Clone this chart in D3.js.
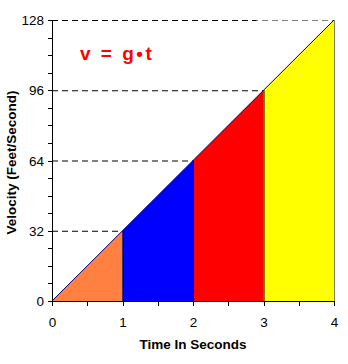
<!DOCTYPE html>
<html>
<head>
<meta charset="utf-8">
<script src="https://cdn.jsdelivr.net/npm/d3@7"></script>
<style>
  html, body { margin: 0; padding: 0; background: #fff; }
  text { font-family: Arial, "Liberation Sans", sans-serif; }
</style>
</head>
<body>
<svg id="chart" width="348" height="364"></svg>
<script>
// Velocity under constant acceleration, split into one-second intervals
const seconds = [0, 1, 2, 3, 4];
const velocities = [0, 32, 64, 96, 128];
const intervalColors = ["#FF8040", "#0000FF", "#FF0000", "#FFFF00"];
const xTicks = [0, 1, 2, 3, 4];
const yTicks = [0, 32, 64, 96, 128];
const xMinorTicks = [0.5, 1.5, 2.5, 3.5];
const yMinorTicks = d3.range(0, 129, 8);

const svg = d3.select("#chart");
const x = d3.scaleLinear().domain([0, 4]).range([52, 334]);
const y = d3.scaleLinear().domain([0, 128]).range([301, 20]);

// Filled strips under the line, one per second
for (let i = 0; i < 4; i++) {
  const pts = [
    [seconds[i], 0], [seconds[i], velocities[i]],
    [seconds[i + 1], velocities[i + 1]], [seconds[i + 1], 0]
  ];
  svg.append("path")
    .attr("d", d3.line().x(d => x(d[0])).y(d => y(d[1]))(pts) + "Z")
    .attr("fill", intervalColors[i]);
}

// Dashed guides from the axis to each point on the line
yTicks.slice(1).forEach((v, i) => {
  const t = seconds[i + 1];
  if (v === 128) {
    svg.append("line").attr("x1", x(0)).attr("x2", x(4))
      .attr("y1", y(v) + 0.5).attr("y2", y(v) + 0.5)
      .attr("stroke", "#808080").attr("stroke-dasharray", "6,4");
    svg.append("line").attr("x1", x(0)).attr("x2", x(2.9))
      .attr("y1", y(v) + 0.5).attr("y2", y(v) + 0.5)
      .attr("stroke", "#000").attr("stroke-dasharray", "6,4");
  } else {
    svg.append("line").attr("x1", x(0)).attr("x2", x(t))
      .attr("y1", y(v) + 0.5).attr("y2", y(v) + 0.5)
      .attr("stroke", "#000").attr("stroke-dasharray", "6,4");
  }
});

// Interval separators
seconds.slice(1, 4).forEach((t, i) => {
  svg.append("line").attr("x1", x(t) + 0.5).attr("x2", x(t) + 0.5)
    .attr("y1", y(velocities[i + 1])).attr("y2", y(0))
    .attr("stroke", "#000").attr("stroke-width", 1);
});
// Right edge
svg.append("line").attr("x1", x(4) + 0.5).attr("x2", x(4) + 0.5)
  .attr("y1", y(128)).attr("y2", y(0)).attr("stroke", "#808080");

// Velocity line v = g·t
svg.append("path")
  .attr("d", d3.line().x((d, i) => x(seconds[i])).y(d => y(d))(velocities))
  .attr("fill", "none").attr("stroke", "#000080").attr("stroke-width", 1);

// Axes
const axisColor = "#000";
svg.append("line").attr("x1", x(0) + 0.5).attr("x2", x(0) + 0.5)
  .attr("y1", y(128)).attr("y2", y(0) + 4).attr("stroke", axisColor);
svg.append("line").attr("x1", x(0) - 4).attr("x2", x(4) + 1)
  .attr("y1", y(0) + 0.5).attr("y2", y(0) + 0.5).attr("stroke", axisColor);

yMinorTicks.forEach(v => {
  svg.append("line").attr("x1", x(0) - 4).attr("x2", x(0))
    .attr("y1", Math.round(y(v)) + 0.5).attr("y2", Math.round(y(v)) + 0.5)
    .attr("stroke", axisColor);
});
xTicks.concat(xMinorTicks).forEach(t => {
  svg.append("line").attr("x1", Math.round(x(t)) + 0.5).attr("x2", Math.round(x(t)) + 0.5)
    .attr("y1", y(0)).attr("y2", y(0) + 5).attr("stroke", axisColor);
});

svg.selectAll(".ylab").data(yTicks).enter().append("text")
  .attr("x", x(0) - 8).attr("y", d => y(d) + 5)
  .attr("text-anchor", "end").attr("font-size", 13.5).attr("fill", "#000")
  .text(d => d);
svg.selectAll(".xlab").data(xTicks).enter().append("text")
  .attr("x", d => x(d) + 0.5).attr("y", 327)
  .attr("text-anchor", "middle").attr("font-size", 13.5).attr("fill", "#000")
  .text(d => d);

svg.append("text")
  .attr("transform", `translate(16,${(y(0) + y(128)) / 2 + 2}) rotate(-90)`)
  .attr("text-anchor", "middle").attr("font-size", 13.5).attr("font-weight", "bold")
  .text("Velocity (Feet/Second)");
svg.append("text")
  .attr("x", 193).attr("y", 349)
  .attr("text-anchor", "middle").attr("font-size", 13.5).attr("font-weight", "bold")
  .text("Time In Seconds");

svg.append("text")
  .attr("x", 80).attr("y", 60)
  .attr("font-size", 19).attr("font-weight", "bold").attr("fill", "#FF0000")
  .attr("letter-spacing", 2.5)
  .text("v = g\u2022t");
</script>
</body>
</html>
